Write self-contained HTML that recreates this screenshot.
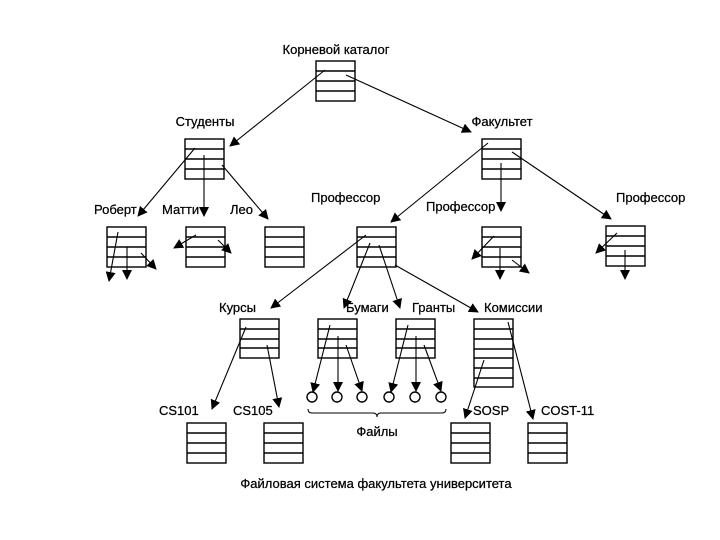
<!DOCTYPE html>
<html><head><meta charset="utf-8"><style>body{margin:0;background:#fff}svg{display:block}text{font-family:"Liberation Sans",sans-serif;font-size:13px;fill:#000;stroke:#000;stroke-width:0.25}</style></head><body>
<svg width="720" height="540" viewBox="0 0 720 540" xmlns="http://www.w3.org/2000/svg">
<defs><marker id="a" viewBox="0 0 10 10" refX="9" refY="5" markerWidth="10" markerHeight="10" markerUnits="userSpaceOnUse" orient="auto"><path d="M0,0L10,5L0,10z" fill="#000"/></marker></defs>
<g fill="none" stroke="#000" stroke-width="1.4">
<g>
<rect x="316" y="61" width="39" height="40"/><path d="M316 71H355M316 81H355M316 91H355"/>
<rect x="185" y="139" width="39" height="40"/><path d="M185 149H224M185 159H224M185 169H224"/>
<rect x="482" y="139" width="39" height="40"/><path d="M482 149H521M482 159H521M482 169H521"/>
<rect x="107" y="227" width="39" height="40"/><path d="M107 237H146M107 247H146M107 257H146"/>
<rect x="186" y="227" width="39" height="40"/><path d="M186 237H225M186 247H225M186 257H225"/>
<rect x="265" y="227" width="39" height="40"/><path d="M265 237H304M265 247H304M265 257H304"/>
<rect x="357" y="227" width="39" height="40"/><path d="M357 237H396M357 247H396M357 257H396"/>
<rect x="482" y="227" width="39" height="40"/><path d="M482 237H521M482 247H521M482 257H521"/>
<rect x="606" y="226" width="39" height="40"/><path d="M606 236H645M606 246H645M606 256H645"/>
<rect x="240" y="319" width="39" height="39"/><path d="M240 329H279M240 339H279M240 348H279"/>
<rect x="318" y="319" width="39" height="39"/><path d="M318 329H357M318 339H357M318 348H357"/>
<rect x="396" y="319" width="39" height="39"/><path d="M396 329H435M396 339H435M396 348H435"/>
<rect x="474" y="319" width="39" height="68"/><path d="M474 329H513M474 339H513M474 349H513M474 358H513M474 368H513M474 378H513"/>
<rect x="187" y="423" width="39" height="40"/><path d="M187 433H226M187 443H226M187 453H226"/>
<rect x="264" y="423" width="39" height="40"/><path d="M264 433H303M264 443H303M264 453H303"/>
<rect x="451" y="423" width="39" height="40"/><path d="M451 433H490M451 443H490M451 453H490"/>
<rect x="528" y="423" width="39" height="40"/><path d="M528 433H567M528 443H567M528 453H567"/>
</g>
<g stroke-width="1.1" marker-end="url(#a)">
<line x1="325" y1="70" x2="230" y2="146"/>
<line x1="346" y1="75" x2="471" y2="132"/>
<line x1="195" y1="148" x2="138" y2="216"/>
<line x1="204" y1="155" x2="204" y2="216"/>
<line x1="222" y1="165" x2="268" y2="219"/>
<line x1="488" y1="143" x2="391" y2="222"/>
<line x1="501" y1="163" x2="501" y2="211"/>
<line x1="512" y1="152" x2="611" y2="219"/>
<line x1="118" y1="232" x2="109" y2="281"/>
<line x1="127" y1="247" x2="127" y2="279"/>
<line x1="141" y1="253" x2="156" y2="269"/>
<line x1="196" y1="235" x2="174" y2="248"/>
<line x1="218" y1="240" x2="231" y2="253"/>
<line x1="494" y1="236" x2="472" y2="259"/>
<line x1="500" y1="248" x2="500" y2="279"/>
<line x1="512" y1="260" x2="529" y2="273"/>
<line x1="617" y1="233" x2="596" y2="253"/>
<line x1="625" y1="250" x2="625" y2="279"/>
<line x1="366" y1="235" x2="271" y2="308"/>
<line x1="370" y1="243" x2="344" y2="308"/>
<line x1="379" y1="245" x2="400" y2="308"/>
<line x1="395" y1="265" x2="478" y2="312"/>
<line x1="246" y1="327" x2="212" y2="409"/>
<line x1="267" y1="345" x2="279" y2="407"/>
<line x1="330" y1="325" x2="313" y2="392"/>
<line x1="338" y1="336" x2="338" y2="391"/>
<line x1="346" y1="345" x2="362" y2="391"/>
<line x1="408" y1="325" x2="391" y2="392"/>
<line x1="416" y1="336" x2="416" y2="391"/>
<line x1="424" y1="345" x2="441" y2="391"/>
<line x1="484" y1="360" x2="465" y2="418"/>
<line x1="508" y1="322" x2="533" y2="419"/>
</g>
<circle cx="312" cy="397" r="5"/><circle cx="337" cy="397" r="5"/><circle cx="362" cy="397" r="5"/><circle cx="389" cy="397" r="5"/><circle cx="415" cy="397" r="5"/><circle cx="441" cy="397" r="5"/>
<path d="M308 409q0 4 4 4H373q4 0 4 4q0-4 4-4H442q4 0 4-4" stroke-width="1"/>
</g>
<text x="336" y="54" text-anchor="middle">Корневой каталог</text>
<text x="205" y="126" text-anchor="middle">Студенты</text>
<text x="502" y="126" text-anchor="middle">Факультет</text>
<text x="94" y="214">Роберт</text>
<text x="162" y="214">Матти</text>
<text x="230" y="214">Лео</text>
<text x="311" y="202">Профессор</text>
<text x="426" y="211">Профессор</text>
<text x="616" y="202">Профессор</text>
<text x="219" y="312">Курсы</text>
<text x="346" y="312">Бумаги</text>
<text x="412" y="312">Гранты</text>
<text x="484" y="312">Комиссии</text>
<text x="159" y="415">CS101</text>
<text x="233" y="415">CS105</text>
<text x="473" y="415">SOSP</text>
<text x="541" y="415">COST-11</text>
<text x="377" y="436" text-anchor="middle">Файлы</text>
<text x="376" y="488" text-anchor="middle">Файловая система факультета университета</text>
</svg>
</body></html>
